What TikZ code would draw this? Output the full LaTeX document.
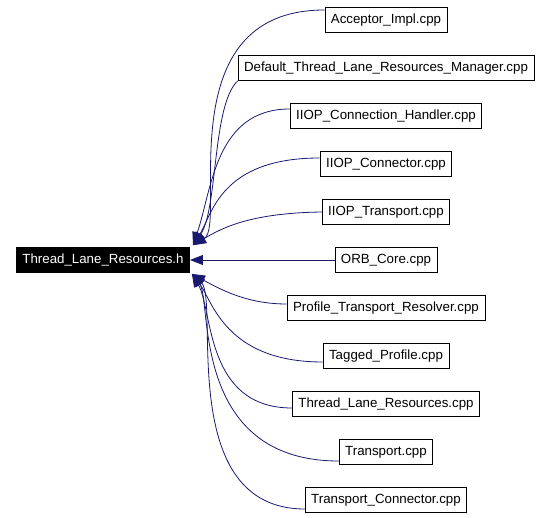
\documentclass[tikz,border=0pt]{standalone}
\usepackage{fontspec}
\setmainfont{Liberation Sans}
\usetikzlibrary{positioning}
\usetikzlibrary{arrows.meta}
\definecolor{edgeblue}{RGB}{25,25,112}

\begin{document}
\begin{tikzpicture}[x=1pt,y=1pt,>={Triangle[length=13pt,width=10pt]},node distance=48pt,
	file node/.style={rectangle,draw,line width=0.8pt,fill=white,minimum height=25pt,
		inner xsep=6pt,inner ysep=0pt,font=\fontsize{13.3}{16}\selectfont},
	head node/.style={file node,fill=black,text=white},
	dep/.style={edgeblue,line width=0.8pt,->}]

	\useasboundingbox (0,0) rectangle (552,-518);

	\node[head node] (tlrh) at (103,-260) {Thread\_Lane\_Resources.h};
	\node[file node] (acc) at (386,-20) {Acceptor\_Impl.cpp};
	\node[file node] (dtlrm) [below of=acc] {Default\_Thread\_Lane\_Resources\_Manager.cpp};
	\node[file node] (ich) [below of=dtlrm] {IIOP\_Connection\_Handler.cpp};
	\node[file node] (icn) [below of=ich] {IIOP\_Connector.cpp};
	\node[file node] (itr) [below of=icn] {IIOP\_Transport.cpp};
	\node[file node] (orb) [below of=itr] {ORB\_Core.cpp};
	\node[file node] (ptr) [below of=orb] {Profile\_Transport\_Resolver.cpp};
	\node[file node] (tp) [below of=ptr] {Tagged\_Profile.cpp};
	\node[file node] (tlrc) [below of=tp] {Thread\_Lane\_Resources.cpp};
	\node[file node] (tr) [below of=tlrc] {Transport.cpp};
	\node[file node] (tcn) [below of=tr] {Transport\_Connector.cpp};

	\coordinate (up) at ([xshift=3pt,yshift=2pt]tlrh.north east);
	\coordinate (dn) at ([xshift=2pt,yshift=-1pt]tlrh.south east);

	% files above the header
	\draw[dep] ([yshift=10pt]acc.west) .. controls (165,-10) and (228,-225) .. (up);
	\draw[dep] (dtlrm.south west) .. controls (212,-105) and (218,-210) .. (up);
	\draw[dep] ([yshift=7pt]ich.west) .. controls (215,-109) and (212,-190) .. (up);
	\draw[dep] ([yshift=6pt]icn.west) .. controls (220,-158) and (212,-215) .. (up);
	\draw[dep] (itr.west) .. controls (250,-213) and (222,-228) .. (up);
	\draw[dep] (orb) -- (tlrh);
	% files below the header
	\draw[dep] ([yshift=4pt]ptr.west) .. controls (250,-304) and (225,-292) .. (dn);
	\draw[dep] ([yshift=-6pt]tp.west) .. controls (225,-362) and (212,-300) .. (dn);
	\draw[dep] ([yshift=-4pt]tlrc.west) .. controls (205,-408) and (213,-310) .. (dn);
	\draw[dep] ([yshift=-9pt]tr.west) .. controls (190,-461) and (212,-300) .. (dn);
	\draw[dep] ([yshift=-9pt]tcn.west) .. controls (175,-509) and (220,-300) .. (dn);
\end{tikzpicture}
\end{document}
